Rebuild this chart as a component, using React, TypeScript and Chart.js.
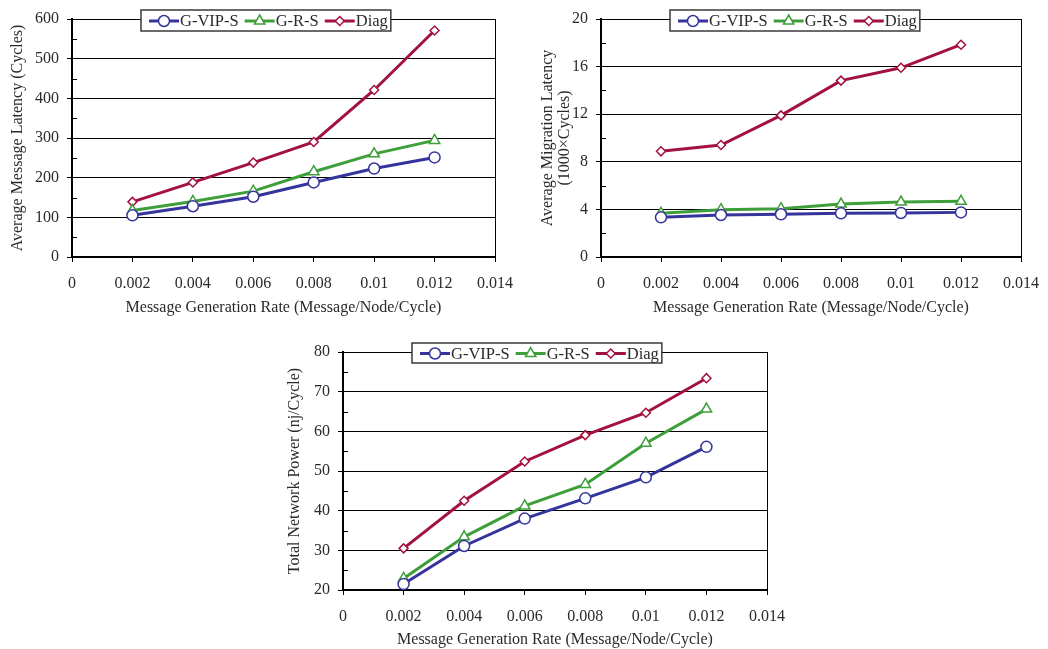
import { useEffect, useRef } from 'react';
import { Chart, registerables } from 'chart.js';

Chart.register(...registerables);

const rates = [0.002, 0.004, 0.006, 0.008, 0.01, 0.012];
const xTickValues = [0, 0.002, 0.004, 0.006, 0.008, 0.01, 0.012, 0.014];
const xTickLabels = ['0', '0.002', '0.004', '0.006', '0.008', '0.01', '0.012', '0.014'];
const seriesNames = ['G-VIP-S', 'G-R-S', 'Diag'];

const latencyVip = [105, 128, 152, 188, 223, 251];
const latencyRs = [117, 140, 166, 215, 260, 294];
const latencyDiag = [139, 188, 238, 290, 421, 571];
const latencyYTicks = [0, 100, 200, 300, 400, 500, 600];

const migrationVip = [3.33, 3.53, 3.59, 3.67, 3.7, 3.75];
const migrationRs = [3.67, 3.98, 4.06, 4.45, 4.62, 4.68];
const migrationDiag = [8.88, 9.41, 11.9, 14.82, 15.9, 17.84];
const migrationYTicks = [0, 4, 8, 12, 16, 20];

const powerVip = [21.5, 31.1, 38.0, 43.1, 48.4, 56.1];
const powerRs = [22.9, 33.4, 41.2, 46.6, 57.0, 65.6];
const powerDiag = [30.5, 42.5, 52.4, 59.05, 64.7, 73.4];
const powerYTicks = [20, 30, 40, 50, 60, 70, 80];

const xTitle = 'Message Generation Rate (Message/Node/Cycle)';

const FONT = '"Liberation Serif", "Times New Roman", serif';
const TEXT = '#2a2a2a';
const COLORS = ['#34349c', '#3e9e3a', '#a3123e'];
const STYLES = ['circle', 'triangle', 'rectRot'];
const RADII = [5.5, 6, 4.5];

function drawMarker(ctx: CanvasRenderingContext2D, style: string, x: number, y: number, r: number, color: string) {
  ctx.save();
  ctx.beginPath();
  if (style === 'circle') {
    ctx.arc(x, y, r, 0, Math.PI * 2);
  } else if (style === 'triangle') {
    for (let k = 0; k < 3; k++) {
      const a = (k * 2 * Math.PI) / 3;
      const px = x + Math.sin(a) * r;
      const py = y - Math.cos(a) * r;
      if (k === 0) ctx.moveTo(px, py);
      else ctx.lineTo(px, py);
    }
    ctx.closePath();
  } else {
    ctx.moveTo(x, y - r);
    ctx.lineTo(x + r, y);
    ctx.lineTo(x, y + r);
    ctx.lineTo(x - r, y);
    ctx.closePath();
  }
  ctx.fillStyle = '#ffffff';
  ctx.fill();
  ctx.lineWidth = 1.5;
  ctx.strokeStyle = color;
  ctx.stroke();
  ctx.restore();
}

const boxLegendPlugin = {
  id: 'boxLegend',
  afterDraw(chart: any, _args: any, opts: any) {
    if (!opts || opts.x === undefined) return;
    const ctx: CanvasRenderingContext2D = chart.ctx;
    ctx.save();
    ctx.font = `16.5px ${FONT}`;
    const lineLen = 30;
    const textGap = 1;
    const entryGap = 6;
    let w = 8;
    const names: string[] = chart.data.datasets.map((d: any) => d.label);
    names.forEach((n, i) => {
      w += lineLen + textGap + ctx.measureText(n).width + (i < names.length - 1 ? entryGap : 0);
    });
    w += 3;
    const h = opts.h;
    ctx.fillStyle = '#ffffff';
    ctx.fillRect(opts.x, opts.y, w, h);
    ctx.lineWidth = 1.5;
    ctx.strokeStyle = '#3a3a3a';
    ctx.strokeRect(opts.x, opts.y, w, h);
    let cx = opts.x + 8;
    const cy = opts.y + h / 2 + 0.5;
    chart.data.datasets.forEach((d: any) => {
      ctx.beginPath();
      ctx.moveTo(cx, cy);
      ctx.lineTo(cx + lineLen, cy);
      ctx.lineWidth = 3;
      ctx.strokeStyle = d.borderColor;
      ctx.stroke();
      drawMarker(ctx, d.pointStyle, cx + lineLen / 2, cy, d.pointRadius, d.borderColor);
      cx += lineLen + textGap;
      ctx.fillStyle = TEXT;
      ctx.textBaseline = 'middle';
      ctx.textAlign = 'left';
      ctx.fillText(d.label, cx, cy + 1);
      cx += ctx.measureText(d.label).width + entryGap;
    });
    ctx.restore();
  },
};

const minorTicksPlugin = {
  id: 'minorTicks',
  beforeDatasetsDraw(chart: any) {
    const y = chart.scales.y;
    const ctx: CanvasRenderingContext2D = chart.ctx;
    const left = chart.chartArea.left;
    ctx.save();
    ctx.strokeStyle = '#000';
    ctx.lineWidth = 1;
    for (let i = 0; i < y.ticks.length - 1; i++) {
      const mid = (y.ticks[i].value + y.ticks[i + 1].value) / 2;
      const py = Math.round(y.getPixelForValue(mid)) + 0.5;
      ctx.beginPath();
      ctx.moveTo(left, py);
      ctx.lineTo(left + 5, py);
      ctx.stroke();
    }
    ctx.restore();
  },
};

type Spec = {
  left: number;
  top: number;
  w: number;
  h: number;
  pad: { left: number; top: number; right: number; bottom: number };
  yWidth: number;
  xHeight: number;
  yMin: number;
  yMax: number;
  yTicks: number[];
  yTitle: string | string[];
  yTitleLH: number;
  series: number[][];
  legend: { x: number; y: number; h: number };
};

const specs: Spec[] = [
  {
    left: 0, top: 0, w: 520, h: 320,
    pad: { left: 8, top: 19, right: 25, bottom: 3 },
    yWidth: 64, xHeight: 60,
    yMin: 0, yMax: 600, yTicks: latencyYTicks,
    yTitle: 'Average Message Latency (Cycles)', yTitleLH: 19.2,
    series: [latencyVip, latencyRs, latencyDiag],
    legend: { x: 141, y: 10, h: 21 },
  },
  {
    left: 520, top: 0, w: 528, h: 320,
    pad: { left: 19, top: 19, right: 27, bottom: 3 },
    yWidth: 62, xHeight: 60,
    yMin: 0, yMax: 20, yTicks: migrationYTicks,
    yTitle: ['Average Migration Latency', '(1000×Cycles)'], yTitleLH: 17,
    series: [migrationVip, migrationRs, migrationDiag],
    legend: { x: 150, y: 10, h: 21 },
  },
  {
    left: 280, top: 330, w: 520, h: 319,
    pad: { left: 5, top: 22, right: 33, bottom: 0 },
    yWidth: 58, xHeight: 59,
    yMin: 20, yMax: 80, yTicks: powerYTicks,
    yTitle: 'Total Network Power (nj/Cycle)', yTitleLH: 19.2,
    series: [powerVip, powerRs, powerDiag],
    legend: { x: 132, y: 13, h: 20 },
  },
];

function zeroPadding(s: any) {
  s.paddingLeft = 0;
  s.paddingRight = 0;
  s.paddingTop = 0;
  s.paddingBottom = 0;
}

function LineChart({ spec }: { spec: Spec }) {
  const ref = useRef<HTMLCanvasElement | null>(null);
  useEffect(() => {
    if (!ref.current) return;
    const datasets = spec.series.map((vals, i) => ({
      label: seriesNames[i],
      data: rates.map((x, j) => ({ x, y: vals[j] })),
      borderColor: COLORS[i],
      backgroundColor: '#ffffff',
      borderWidth: 3,
      pointStyle: STYLES[i],
      pointRadius: RADII[i],
      pointBorderWidth: 1.5,
      pointBackgroundColor: '#ffffff',
      pointBorderColor: COLORS[i],
      tension: 0,
      clip: false as any,
    }));
    const lastX = xTickValues.length - 1;
    const chart = new Chart(ref.current, {
      type: 'line',
      data: { datasets },
      plugins: [minorTicksPlugin, boxLegendPlugin],
      options: {
        animation: false,
        responsive: false,
        devicePixelRatio: 1,
        layout: { padding: spec.pad },
        plugins: {
          legend: { display: false },
          tooltip: { enabled: false },
          boxLegend: spec.legend,
        } as any,
        scales: {
          x: {
            type: 'linear',
            min: 0,
            max: 0.014,
            afterBuildTicks: (s: any) => {
              s.ticks = xTickValues.map((v) => ({ value: v }));
            },
            afterFit: (s: any) => {
              s.height = spec.xHeight;
              zeroPadding(s);
            },
            ticks: {
              autoSkip: false,
              maxRotation: 0,
              padding: 12,
              color: TEXT,
              font: { family: FONT, size: 16 },
              callback: (_v: any, i: number) => xTickLabels[i],
            },
            grid: {
              color: (c: any) => (c.index === lastX ? '#000' : 'rgba(0,0,0,0)'),
              tickColor: '#000',
              tickLength: 5,
              lineWidth: 1,
            },
            border: { display: true, color: '#000', width: 2 },
            title: {
              display: true,
              text: xTitle,
              color: TEXT,
              padding: 0,
              font: { family: FONT, size: 16 },
            },
          },
          y: {
            type: 'linear',
            min: spec.yMin,
            max: spec.yMax,
            afterBuildTicks: (s: any) => {
              s.ticks = spec.yTicks.map((v) => ({ value: v }));
            },
            afterFit: (s: any) => {
              s.width = spec.yWidth;
              zeroPadding(s);
            },
            ticks: {
              padding: 8,
              color: TEXT,
              font: { family: FONT, size: 16 },
              callback: (v: any) => String(v),
            },
            grid: {
              color: '#000',
              tickColor: '#000',
              tickLength: 5,
              lineWidth: 1,
            },
            border: { display: true, color: '#000', width: 2 },
            title: {
              display: true,
              text: spec.yTitle,
              color: TEXT,
              padding: 0,
              font: { family: FONT, size: 16, lineHeight: `${spec.yTitleLH}px` as any },
            },
          },
        },
      } as any,
    });
    return () => chart.destroy();
  }, [spec]);
  return (
    <canvas
      ref={ref}
      width={spec.w}
      height={spec.h}
      style={{ position: 'absolute', left: spec.left, top: spec.top, width: spec.w, height: spec.h }}
    />
  );
}

export default function App() {
  return (
    <div style={{ position: 'absolute', left: 0, top: 0, width: 1048, height: 649, background: '#ffffff', overflow: 'hidden' }}>
      {specs.map((s, i) => (
        <LineChart key={i} spec={s} />
      ))}
    </div>
  );
}
